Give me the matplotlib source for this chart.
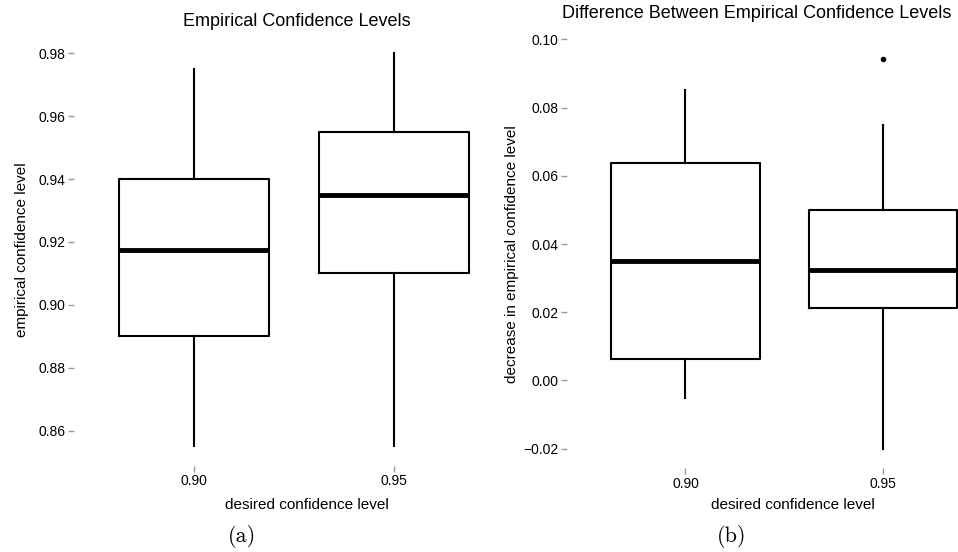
import matplotlib.pyplot as plt

plt.rcParams['font.family'] = ['Liberation Sans', 'DejaVu Sans']

levels = ['0.90', '0.95']

# (a) empirical confidence levels, box stats per desired level
emp_low = [0.855, 0.855]
emp_q1 = [0.890, 0.910]
emp_med = [0.9175, 0.935]
emp_q3 = [0.940, 0.955]
emp_high = [0.975, 0.980]
emp_out = [[], []]

# (b) decrease in empirical confidence level
dec_low = [-0.005, -0.020]
dec_q1 = [0.0063, 0.0212]
dec_med = [0.035, 0.0325]
dec_q3 = [0.0637, 0.050]
dec_high = [0.085, 0.075]
dec_out = [[], [0.0942]]

W, H = 958, 552
fig = plt.figure(figsize=(W / 100, H / 100), dpi=100)


def px_axes(x0, y0, x1, y1):
    # axes placed by pixel box (top-left origin)
    return fig.add_axes([x0 / W, 1 - y1 / H, (x1 - x0) / W, (y1 - y0) / H])


def draw(ax, low, q1, med, q3, high, out):
    stats = []
    for i in range(len(levels)):
        stats.append({'whislo': low[i], 'q1': q1[i], 'med': med[i], 'q3': q3[i],
                      'whishi': high[i], 'fliers': out[i], 'label': levels[i]})
    ax.bxp(stats, positions=range(1, len(levels) + 1), widths=0.75,
           showcaps=False, patch_artist=False,
           boxprops=dict(color='black', linewidth=1.5),
           whiskerprops=dict(color='black', linewidth=1.5),
           medianprops=dict(color='black', linewidth=3.5, solid_capstyle='butt'),
           flierprops=dict(marker='o', markersize=3, markerfacecolor='black',
                           markeredgecolor='black'))
    for s in ax.spines.values():
        s.set_visible(False)
    ax.tick_params(length=4, width=1, color='#999999', labelsize=10, pad=2,
                   labelcolor='black')


ax1 = px_axes(74, 33.7, 480, 466)
draw(ax1, emp_low, emp_q1, emp_med, emp_q3, emp_high, emp_out)
ax1.set_ylim(0.84875, 0.98625)
ax1.set_xlim(0.4, 2.43)
ax1.set_yticks([0.86, 0.88, 0.90, 0.92, 0.94, 0.96, 0.98])
ax1.set_yticklabels(['0.86', '0.88', '0.90', '0.92', '0.94', '0.96', '0.98'])

ax2 = px_axes(567, 39.3, 958, 468.2)
draw(ax2, dec_low, dec_q1, dec_med, dec_q3, dec_high, dec_out)
ax2.set_ylim(-0.02571, 0.09991)
ax2.set_xlim(0.4, 2.38)
ax2.set_yticks([-0.02, 0.0, 0.02, 0.04, 0.06, 0.08, 0.10])
ax2.set_yticklabels(['\u22120.02', '0.00', '0.02', '0.04', '0.06', '0.08', '0.10'])

# titles, axis labels and captions
fig.text(297 / W, 1 - 21 / H, 'Empirical Confidence Levels', ha='center', va='center', fontsize=13)
fig.text(757 / W, 1 - 13 / H, 'Difference Between Empirical Confidence Levels',
         ha='center', va='center', fontsize=13)
fig.text(22 / W, 1 - 250 / H, 'empirical confidence level', rotation=90,
         ha='center', va='center', fontsize=11)
fig.text(512 / W, 1 - 254 / H, 'decrease in empirical confidence level', rotation=90,
         ha='center', va='center', fontsize=11)
fig.text(307 / W, 1 - 505 / H, 'desired confidence level', ha='center', va='center', fontsize=11)
fig.text(793 / W, 1 - 505 / H, 'desired confidence level', ha='center', va='center', fontsize=11)
fig.text(242 / W, 1 - 537 / H, '(a)', ha='center', va='center', fontsize=16, family='cmr10')
fig.text(732 / W, 1 - 537 / H, '(b)', ha='center', va='center', fontsize=16, family='cmr10')

fig.savefig('out.png', dpi=100)
